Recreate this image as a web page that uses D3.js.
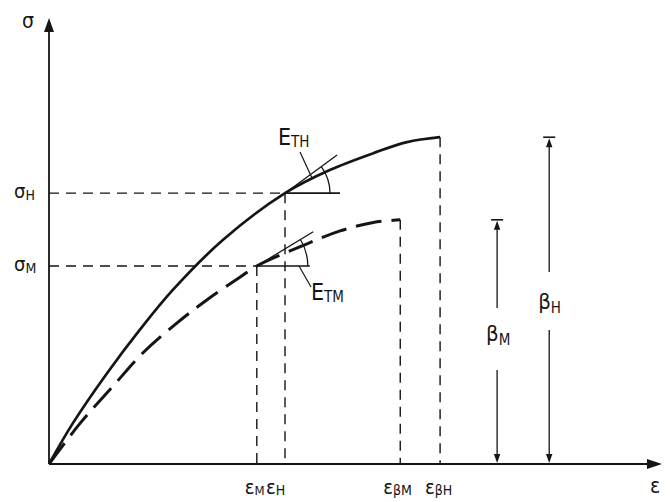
<!DOCTYPE html>
<html><head><meta charset="utf-8">
<script src="https://cdn.jsdelivr.net/npm/d3@7"></script>
<style>
body{margin:0;background:#fff}
text{font-family:"DejaVu Sans Condensed","DejaVu Sans",sans-serif;fill:#151515}
</style>
</head><body>
<svg id="c" width="671" height="502"></svg>
<script>
// ---- data (strain ε, stress σ in arbitrary units) ----
const curveHigh = [[0,0],[3.9,9.2],[9.5,20.5],[14.8,30.2],[20.2,39.2],[28.4,50.5],[38.5,61.0],[45.8,66.2],[52.9,70.0],[58.4,72.5],[63.8,73.6]];
const curveMed  = [[0,0],[5.1,9.2],[10.3,17.3],[15.3,25.0],[20.9,31.8],[25.8,37.0],[31.2,42.1],[33.9,44.6],[40.9,48.9],[47.5,52.5],[52.9,54.4],[57.3,55.0]];
const sigmaLevels = [61.0, 44.6];          // σH, σM
const sigmaNames  = ["H", "M"];
const strainAtLevel = [38.5, 33.9];        // εH, εM
const strainUltimate = [63.8, 57.3];       // εβH, εβM
const strengths = [73.6, 55.0];            // βH, βM
const strengthX = [81.6, 73.1];            // position of β dimension lines
const tangentEnd = [[47.0, 69.6], [43.1, 52.3]];
const tangentNames = ["TH", "TM"];
const betaNames = ["H", "M"];

const svg = d3.select("#c");
const x = d3.scaleLinear().domain([0, 100]).range([49, 662]);
const y = d3.scaleLinear().domain([0, 100]).range([464, 20]);
const ink = "#151515";

function tri(tx, ty, dir, len, half) {
  let p;
  if (dir === "up") p = [[tx,ty],[tx-half,ty+len],[tx+half,ty+len]];
  else if (dir === "down") p = [[tx,ty],[tx-half,ty-len],[tx+half,ty-len]];
  else p = [[tx,ty],[tx-len,ty-half],[tx-len,ty+half]];
  svg.append("path").attr("d", "M" + p.join("L") + "Z").attr("fill", ink);
}
function label(px, py, main, sub, size, subSize, subDy) {
  const t = svg.append("text").attr("x", px).attr("y", py).style("font-size", size + "px");
  t.append("tspan").text(main);
  if (sub) t.append("tspan").attr("dy", subDy).style("font-size", subSize + "px").text(sub);
  return t;
}

// ---- axes ----
svg.append("line").attr("x1", x(0)).attr("y1", y(0)).attr("x2", x(0)).attr("y2", y(100) + 6)
  .attr("stroke", ink).attr("stroke-width", 1.8);
tri(x(0), y(100) - 2, "up", 14, 5);
svg.append("line").attr("x1", x(0)).attr("y1", y(0)).attr("x2", x(100) - 6).attr("y2", y(0))
  .attr("stroke", ink).attr("stroke-width", 2);
tri(x(100), y(0), "right", 15, 5);
label(x(0) - 27, y(100) + 8, "σ", null, 21);
label(x(100) - 12, y(0) + 29, "ε", null, 21);

// ---- guide lines ----
const dashG = "10,7";
sigmaLevels.forEach((s, i) => {
  svg.append("line").attr("x1", x(0)).attr("x2", x(strainAtLevel[i])).attr("y1", y(s)).attr("y2", y(s))
    .attr("stroke", ink).attr("stroke-width", 1.4).attr("stroke-dasharray", dashG);
  svg.append("line").attr("x1", x(strainAtLevel[i])).attr("x2", x(strainAtLevel[i])).attr("y1", y(s)).attr("y2", y(0))
    .attr("stroke", ink).attr("stroke-width", 1.4).attr("stroke-dasharray", dashG);
  svg.append("line").attr("x1", x(strainUltimate[i])).attr("x2", x(strainUltimate[i])).attr("y1", y(strengths[i])).attr("y2", y(0))
    .attr("stroke", ink).attr("stroke-width", 1.4).attr("stroke-dasharray", dashG);
  label(x(0) - 35, y(s) + 5, "σ", sigmaNames[i], 20, 14, 2);
});

// ---- curves ----
const line = d3.line().x(d => x(d[0])).y(d => y(d[1])).curve(d3.curveCatmullRom.alpha(0.5));
svg.append("path").attr("d", line(curveHigh)).attr("fill", "none").attr("stroke", ink).attr("stroke-width", 2.7);
svg.append("path").attr("d", line(curveMed)).attr("fill", "none").attr("stroke", ink).attr("stroke-width", 3)
  .attr("stroke-dasharray", "26,10");

// ---- tangents, reference horizontals, angle arcs ----
const hLen = [55, 53], arcR = [45, 51];
sigmaLevels.forEach((s, i) => {
  const x0 = x(strainAtLevel[i]), y0 = y(s);
  svg.append("line").attr("x1", x0).attr("y1", y0).attr("x2", x(tangentEnd[i][0])).attr("y2", y(tangentEnd[i][1]))
    .attr("stroke", ink).attr("stroke-width", 1.3);
  svg.append("line").attr("x1", x0).attr("y1", y0).attr("x2", x0 + hLen[i]).attr("y2", y0)
    .attr("stroke", ink).attr("stroke-width", 1.6);
  const ang = Math.atan2(y0 - y(tangentEnd[i][1]), x(tangentEnd[i][0]) - x0);
  const r = arcR[i];
  const ex = x0 + r * Math.cos(ang), ey = y0 - r * Math.sin(ang);
  svg.append("path").attr("d", `M${x0 + r},${y0} A${r},${r} 0 0 0 ${ex},${ey}`)
    .attr("fill", "none").attr("stroke", ink).attr("stroke-width", 1.3);
});
// E_T labels with leaders
label(278, 145, "E", tangentNames[0], 23, 15, 2);
svg.append("line").attr("x1", 300).attr("y1", 152).attr("x2", 312).attr("y2", 178).attr("stroke", ink).attr("stroke-width", 1.2);
label(311, 300, "E", tangentNames[1], 23, 15, 2);
svg.append("line").attr("x1", 299).attr("y1", 266).attr("x2", 311).attr("y2", 287).attr("stroke", ink).attr("stroke-width", 1.2);

// ---- strength dimension lines ----
const breakTop = [272, 308], breakBot = [330, 370], labY = [313, 345];
strengths.forEach((b, i) => {
  const px = x(strengthX[i]), pt = y(b);
  svg.append("line").attr("x1", px - 6).attr("x2", px + 6).attr("y1", pt).attr("y2", pt).attr("stroke", ink).attr("stroke-width", 1.6);
  svg.append("line").attr("x1", px).attr("x2", px).attr("y1", pt + 4).attr("y2", breakTop[i]).attr("stroke", ink).attr("stroke-width", 1.3);
  tri(px, pt + 1, "up", 9, 3.2);
  svg.append("line").attr("x1", px).attr("x2", px).attr("y1", breakBot[i]).attr("y2", y(0) - 4).attr("stroke", ink).attr("stroke-width", 1.3);
  tri(px, y(0) - 1, "down", 9, 3.2);
  label(px - 11, labY[i] - 4, "β", betaNames[i], 22, 15, 4);
});

// ---- strain labels on the x axis ----
label(x(strainAtLevel[1]) - 12, 494, "ε", "M", 20, 13, 1);
label(x(strainAtLevel[0]) - 19, 494, "ε", "H", 20, 14, 1);
label(x(strainUltimate[1]) - 17, 494, "ε", "βM", 20, 14, 1);
label(x(strainUltimate[0]) - 15, 494, "ε", "βH", 20, 14, 1);
</script>
</body></html>
